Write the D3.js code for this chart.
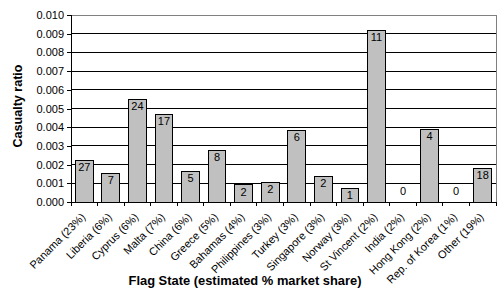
<!DOCTYPE html>
<html>
<head>
<meta charset="utf-8">
<script src="https://cdn.jsdelivr.net/npm/d3@7"></script>
<style>
  body { margin: 0; background: #fff; }
  text { font-family: "Liberation Sans", Arial, sans-serif; fill: #000; }
</style>
</head>
<body>
<div id="chart"></div>
<script>
var flagStates = ["Panama (23%)", "Liberia (6%)", "Cyprus (6%)", "Malta (7%)", "China (6%)",
  "Greece (5%)", "Bahamas (4%)", "Philippines (3%)", "Turkey (3%)", "Singapore (3%)",
  "Norway (3%)", "St Vincent (2%)", "India (2%)", "Hong Kong (2%)", "Rep. of Korea (1%)", "Other (19%)"];
var casualtyRatio = [0.00223, 0.00153, 0.0055, 0.0047, 0.00164, 0.00276, 0.00091, 0.00105,
  0.00383, 0.00137, 0.00073, 0.00918, 0, 0.00389, 0, 0.0018];
var casualties = [27, 7, 24, 17, 5, 8, 2, 2, 6, 2, 1, 11, 0, 4, 0, 18];
var yTicks = [0, 0.001, 0.002, 0.003, 0.004, 0.005, 0.006, 0.007, 0.008, 0.009, 0.010];

var margin = {top: 15, right: 8, bottom: 101, left: 71};
var width = 504 - margin.left - margin.right,
    height = 303 - margin.top - margin.bottom;

var svg = d3.select('#chart').append('svg')
    .attr('width', 504)
    .attr('height', 303);

var g = svg.append('g')
    .attr('transform', 'translate(' + margin.left + ',' + margin.top + ')');

var xScale = d3.scaleBand()
    .domain(flagStates)
    .range([0, width])
    .paddingInner(1 / 3)
    .paddingOuter(1 / 6);

var yScale = d3.scaleLinear()
    .domain([0, 0.01])
    .range([height, 0]);

// plot border (grey top + right)
g.append('rect')
    .attr('x', 0).attr('y', 0)
    .attr('width', width).attr('height', height)
    .attr('fill', '#fff')
    .attr('stroke', '#808080')
    .attr('stroke-width', 1)
    .attr('shape-rendering', 'crispEdges');

// gridlines
g.selectAll('.grid').data(yTicks.slice(1, -1))
  .enter().append('line')
    .attr('x1', 0).attr('x2', width)
    .attr('y1', function(d) { return yScale(d); })
    .attr('y2', function(d) { return yScale(d); })
    .attr('stroke', '#000')
    .attr('shape-rendering', 'crispEdges');

// bars
g.selectAll('.bar').data(casualtyRatio)
  .enter().append('rect')
    .attr('x', function(d, i) { return xScale(flagStates[i]); })
    .attr('y', function(d) { return yScale(d); })
    .attr('width', xScale.bandwidth())
    .attr('height', function(d) { return height - yScale(d); })
    .attr('fill', d => d > 0 ? '#c0c0c0' : 'none')
    .attr('stroke', d => d > 0 ? '#000' : 'none')
    .attr('shape-rendering', 'crispEdges');

// bar labels
g.selectAll('.lbl').data(casualties)
  .enter().append('text')
    .attr('x', function(d, i) { return xScale(flagStates[i]) + xScale.bandwidth() / 2; })
    .attr('y', function(d, i) {
      return casualtyRatio[i] > 0 ? yScale(casualtyRatio[i]) + 11 : yScale(0) - 7;
    })
    .attr('text-anchor', 'middle')
    .attr('font-size', '11px')
    .attr('fill', '#000')
    .text(function(d) { return d; });

// y axis
var yAxis = d3.axisLeft(yScale)
    .tickValues(yTicks)
    .tickFormat(d3.format('.3f'))
    .tickSize(4);
var yG = g.append('g').call(yAxis);
yG.select('.domain').attr('stroke', '#000').attr('shape-rendering', 'crispEdges');
yG.selectAll('line').attr('stroke', '#000').attr('shape-rendering', 'crispEdges');
yG.selectAll('text')
    .attr('font-size', '11px')
    .attr('font-family', '"Liberation Sans", Arial, sans-serif')
    .attr('fill', '#000');

// x axis: ticks at category boundaries
var step = xScale.step();
var boundaries = d3.range(0, flagStates.length + 1).map(function(i) { return i * step; });
var xG = g.append('g').attr('transform', 'translate(0,' + height + ')');
xG.append('line')
    .attr('x1', 0).attr('x2', width)
    .attr('stroke', '#000')
    .attr('shape-rendering', 'crispEdges');
xG.selectAll('.tk').data(boundaries)
  .enter().append('line')
    .attr('x1', d => d).attr('x2', d => d)
    .attr('y1', 0).attr('y2', 4)
    .attr('stroke', '#000')
    .attr('shape-rendering', 'crispEdges');
xG.selectAll('.xl').data(flagStates)
  .enter().append('text')
    .attr('transform', function(d) {
      return 'translate(' + (xScale(d) + xScale.bandwidth() / 2 - 1) + ',13) rotate(-45)';
    })
    .attr('text-anchor', 'end')
    .attr('dy', '0.35em')
    .attr('font-size', '11px')
    .attr('fill', '#000')
    .text(function(d) { return d; });

// axis titles
svg.append('text')
    .attr('x', 245)
    .attr('y', 285)
    .attr('text-anchor', 'middle')
    .attr('font-size', '13px')
    .attr('font-weight', 'bold')
    .attr('textLength', 233)
    .attr('lengthAdjust', 'spacingAndGlyphs')
    .text('Flag State (estimated % market share)');

svg.append('text')
    .attr('transform', 'translate(22,106) rotate(-90)')
    .attr('text-anchor', 'middle')
    .attr('font-size', '13px')
    .attr('font-weight', 'bold')
    .attr('textLength', 83)
    .attr('lengthAdjust', 'spacingAndGlyphs')
    .text('Casualty ratio');
</script>
</body>
</html>
